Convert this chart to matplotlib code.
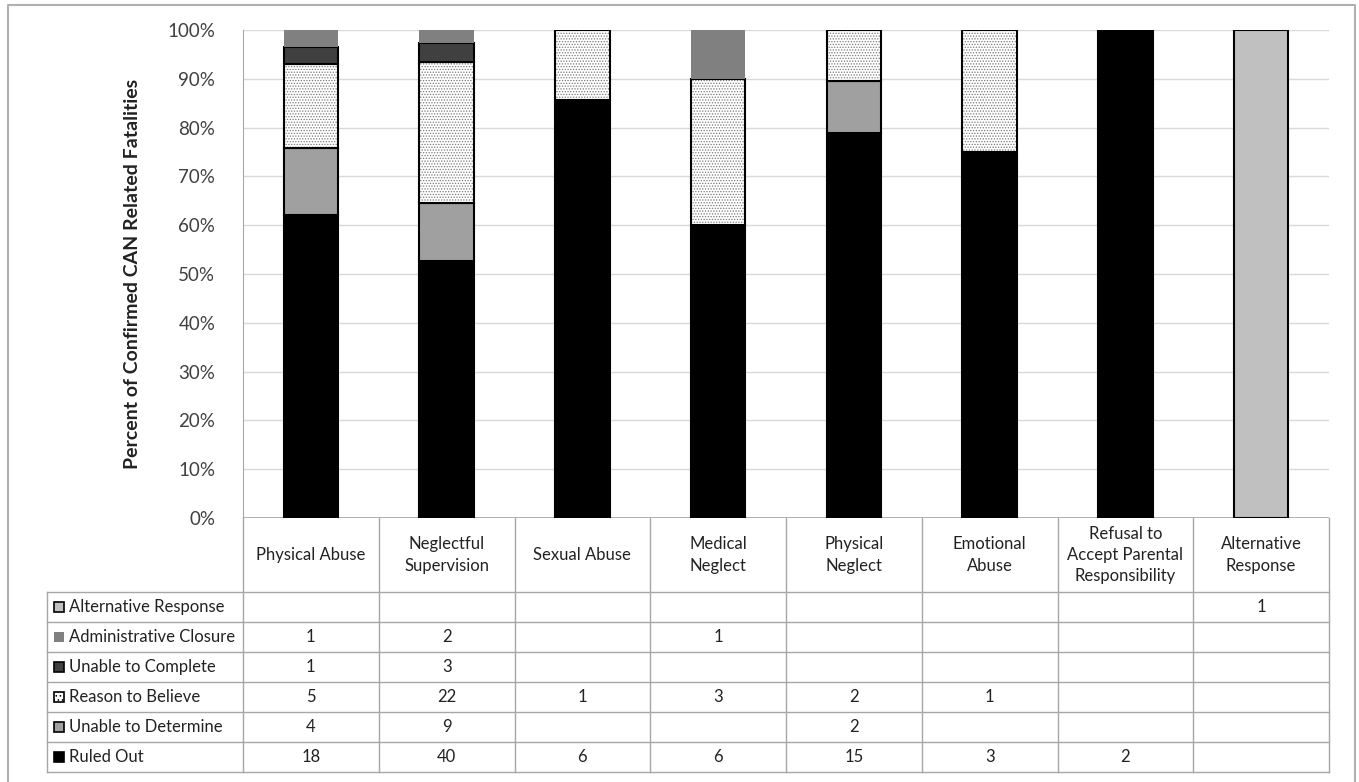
import numpy as np
import matplotlib
matplotlib.use('Agg')
from matplotlib import pyplot as plt
from matplotlib import ticker as tick
from matplotlib.patches import Rectangle

plt.rcParams['font.family'] = ['Lato', 'DejaVu Sans']
plt.rcParams['hatch.linewidth'] = 0.6

categories = ['Physical Abuse', 'Neglectful\nSupervision', 'Sexual Abuse', 'Medical\nNeglect',
              'Physical\nNeglect', 'Emotional\nAbuse', 'Refusal to\nAccept Parental\nResponsibility',
              'Alternative\nResponse']

# stacking order, bottom to top
series_names = ['Ruled Out', 'Unable to Determine', 'Reason to Believe',
                'Unable to Complete', 'Administrative Closure', 'Alternative Response']
ruled_out = [18, 40, 6, 6, 15, 3, 2, 0]
unable_to_determine = [4, 9, 0, 0, 2, 0, 0, 0]
reason_to_believe = [5, 22, 1, 3, 2, 1, 0, 0]
unable_to_complete = [1, 3, 0, 0, 0, 0, 0, 0]
administrative_closure = [1, 2, 0, 1, 0, 0, 0, 0]
alternative_response = [0, 0, 0, 0, 0, 0, 0, 1]

series_values = [ruled_out, unable_to_determine, reason_to_believe,
                 unable_to_complete, administrative_closure, alternative_response]

styles = {
    'Ruled Out': dict(facecolor='black', edgecolor='black', hatch=None),
    'Unable to Determine': dict(facecolor='#a0a0a0', edgecolor='black', hatch=None),
    'Reason to Believe': dict(facecolor='white', edgecolor='black', hatch='......'),
    'Unable to Complete': dict(facecolor='#404040', edgecolor='black', hatch=None),
    'Administrative Closure': dict(facecolor='#808080', edgecolor='none', hatch=None),
    'Alternative Response': dict(facecolor='#c0c0c0', edgecolor='black', hatch=None),
}

W, H = 1359, 782
fig = plt.figure(figsize=(W / 100, H / 100), dpi=100)

# page coordinates overlay (pixels)
page = fig.add_axes([0, 0, 1, 1])
page.set_xlim(0, W)
page.set_ylim(H, 0)
page.axis('off')

plot_l, plot_r, plot_t, plot_b = 243, 1329, 30, 518
ax = fig.add_axes([plot_l / W, 1 - plot_b / H, (plot_r - plot_l) / W, (plot_b - plot_t) / H])

data = np.array(series_values, dtype=float)
totals = data.sum(axis=0)
pct = data / totals

x = np.arange(len(categories)) + 0.5
bottom = np.zeros(len(categories))
for name, vals in zip(series_names, pct):
    st = styles[name]
    mask = vals > 0
    bars = ax.bar(x[mask], vals[mask], width=0.4, bottom=bottom[mask],
                  facecolor=st['facecolor'], edgecolor=st['edgecolor'],
                  linewidth=1.5 if st['edgecolor'] != 'none' else 0, zorder=3)
    if st['hatch']:
        for b in bars:
            b.set_hatch(st['hatch'])
            b._hatch_color = matplotlib.colors.to_rgba('#7a7a7a')
    bottom += vals

ax.set_xlim(0, len(categories))
ax.set_ylim(0, 1)
ax.set_yticks(np.arange(0, 1.01, 0.1))
ax.yaxis.set_major_formatter(tick.FuncFormatter(lambda v, _: f'{v * 100:.0f}%'))
ax.tick_params(axis='y', length=0, pad=20, labelsize=13.5, labelcolor='#404040')
ax.set_xticks([])
ax.grid(axis='y', color='#d9d9d9', linewidth=1, zorder=0)
for s in ['top', 'right', 'bottom']:
    ax.spines[s].set_visible(False)
ax.spines['left'].set_color('#a6a6a6')
ax.axhline(0, color='#a6a6a6', linewidth=1.2, zorder=2)

ax.set_ylabel('Percent of Confirmed CAN Related Fatalities', fontsize=14,
              fontweight='bold', color='#222222', labelpad=19)

# outer chart border
page.plot([8, 8, 1355, 1355], [790, 5, 5, 790], color='#b0b0b0', linewidth=1.5)

# data table
line_c = '#a6a6a6'
colw = (plot_r - plot_l) / len(categories)
hdr_t, hdr_b = plot_b, 592
row_h = 30
leg_l = 47
n_rows = len(series_names)
tab_b = hdr_b + n_rows * row_h

for i in range(len(categories) + 1):
    xe = plot_l + i * colw
    page.plot([xe, xe], [hdr_t, tab_b], color=line_c, linewidth=1)
page.plot([leg_l, leg_l], [hdr_b, tab_b], color=line_c, linewidth=1)
for k in range(n_rows + 1):
    yy = hdr_b + k * row_h
    page.plot([leg_l, plot_r], [yy, yy], color=line_c, linewidth=1)

for i, cat in enumerate(categories):
    page.text(plot_l + (i + 0.5) * colw, (hdr_t + hdr_b) / 2, cat, ha='center', va='center',
              fontsize=12, color='#222222', linespacing=1.4)

# rows: top row is the last series
for k, name in enumerate(reversed(series_names)):
    vals = series_values[series_names.index(name)]
    yc = hdr_b + (k + 0.5) * row_h
    st = styles[name]
    page.add_patch(Rectangle((54, yc - 5), 10, 10, facecolor=st['facecolor'],
                             edgecolor='black' if st['edgecolor'] != 'none' else 'none',
                             linewidth=1.2, hatch='....' if st['hatch'] else None))
    page.text(69, yc, name, ha='left', va='center', fontsize=12, color='#222222')
    for i, v in enumerate(vals):
        if v:
            page.text(plot_l + (i + 0.5) * colw, yc, str(v), ha='center', va='center',
                      fontsize=12, color='#222222')

fig.savefig('out.png', dpi=100)
